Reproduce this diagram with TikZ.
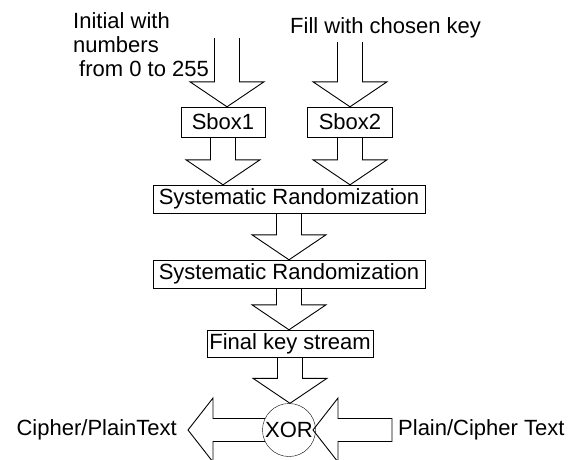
\documentclass[tikz,border=0pt]{standalone}
\usepackage{fontspec}
\setmainfont{Liberation Sans}
\usetikzlibrary{calc}

\tikzset{
  txt/.style={inner sep=0pt, font=\fontsize{22}{24}\selectfont},
  box/.style={draw, rectangle, inner sep=0pt, font=\fontsize{22}{24}\selectfont},
  xorcircle/.style={draw, circle, inner sep=0pt, minimum size=53pt, font=\fontsize{22}{24}\selectfont},
  fatline/.style={draw, line width=0.9pt, line join=miter}
}

% block arrow pointing down, from #1 to the tip at #2
\newcommand{\fatdown}[2]{%
  \draw[fatline] let \p1=(#1), \p2=(#2) in
    (\x1-12.5pt,\y1) -- (\x1-12.5pt,\y2+25pt) -- (\x1-37pt,\y2+25pt) -- (\x1,\y2)
    -- (\x1+37pt,\y2+25pt) -- (\x1+12.5pt,\y2+25pt) -- (\x1+12.5pt,\y1);}
% block arrow pointing left, from #1 to the tip at #2, #3 closes the tail
\newcommand{\fatleft}[3]{%
  \draw[fatline] let \p1=(#1), \p2=(#2) in
    (\x1,\y1+11.5pt) -- (\x2+25pt,\y1+11.5pt) -- (\x2+25pt,\y1+32pt) -- (\x2,\y1)
    -- (\x2+25pt,\y1-32pt) -- (\x2+25pt,\y1-11.5pt) -- (\x1,\y1-11.5pt) #3;}

\begin{document}
\begin{tikzpicture}[x=1pt, y=-1pt]
        \useasboundingbox (0,0) rectangle (570,459);
        \node (init) at (73,76) [txt, anchor=base west, align=left] {Initial with\\numbers\\\hspace{6pt}from 0 to 255};
        \node (fill) at (290,33) [txt, anchor=base west] {Fill with chosen key};
        \coordinate (inittop) at (227,38);
        \coordinate (filltop) at (350,42);
        \node (sbox1) at (223,122) [box, minimum width=84pt, minimum height=30pt] {Sbox1};
        \node (sbox2) at (350,122) [box, minimum width=85pt, minimum height=30pt] {Sbox2};
        \node (rand1) at (289,199) [box, minimum width=272pt, minimum height=28pt] {Systematic Randomization};
        \node (rand2) at (289,274) [box, minimum width=272pt, minimum height=28pt] {Systematic Randomization};
        \node (final) at (290,343.5) [box, minimum width=166pt, minimum height=27pt] {Final key stream};
        \node (xor) at (289,430) [xorcircle] {XOR};
        \coordinate (lefttail) at (265,430);
        \coordinate (lefttip) at (188,430);
        \coordinate (righttail) at (392,430);
        \coordinate (righttip) at (313,430);
        \node (out) at (177,435) [txt, anchor=base east] {Cipher/PlainText};
        \node (in) at (398,435) [txt, anchor=base west] {Plain/Cipher Text};

        \fatdown{inittop}{sbox1.north}
        \fatdown{filltop}{sbox2.north}
        \fatdown{sbox1.south}{rand1.north}
        \fatdown{sbox2.south}{rand1.north}
        \fatdown{rand1.south}{rand2.north}
        \fatdown{rand2.south}{final.north}
        \fatdown{final.south}{xor.north}
        \fatleft{lefttail}{lefttip}{}
        \fatleft{righttail}{righttip}{-- cycle}

\end{tikzpicture}
\end{document}
